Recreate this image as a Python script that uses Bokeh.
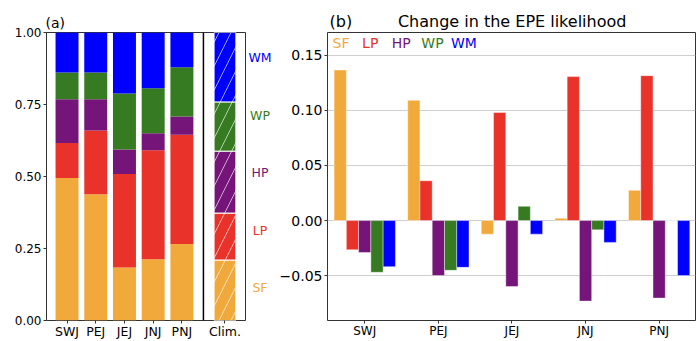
from bokeh.plotting import figure
from bokeh.layouts import row
from bokeh.models import Range1d, FixedTicker, CustomJSTickFormatter, Span, Label
from bokeh.core.properties import value
from bokeh.embed import file_html
from bokeh.resources import INLINE

# ---------------- data ----------------
jets = ["SWJ", "PEJ", "JEJ", "JNJ", "PNJ"]
clim_label = "Clim."
types = ["SF", "LP", "HP", "WP", "WM"]
colors = ["#F2A93B", "#E8322A", "#751479", "#367B21", "#0000FF"]

# (a) fraction of EPEs by weather type, per jet regime
frac_SF = [0.495, 0.438, 0.184, 0.213, 0.266]
frac_LP = [0.121, 0.222, 0.325, 0.378, 0.379]
frac_HP = [0.152, 0.108, 0.085, 0.059, 0.063]
frac_WP = [0.093, 0.093, 0.194, 0.156, 0.171]
frac_WM = [0.139, 0.139, 0.212, 0.194, 0.121]
clim_frac = [0.210, 0.163, 0.215, 0.171, 0.241]  # SF, LP, HP, WP, WM

# (b) change in the EPE likelihood
d_SF = [0.1365, 0.1090, -0.0123, 0.0021, 0.0274]
d_LP = [-0.0265, 0.0361, 0.0980, 0.1305, 0.1314]
d_HP = [-0.0289, -0.0499, -0.0598, -0.0730, -0.0703]
d_WP = [-0.0469, -0.0451, 0.0129, -0.0084, 0.0000]
d_WM = [-0.0418, -0.0424, -0.0123, -0.0198, -0.0499]

yticks_a = [0.0, 0.25, 0.5, 0.75, 1.0]
yticks_b = [-0.05, 0.0, 0.05, 0.10, 0.15]

FONT = "DejaVu Sans"
fracs = [frac_SF, frac_LP, frac_HP, frac_WP, frac_WM]
deltas = [d_SF, d_LP, d_HP, d_WP, d_WM]

H = 341
TOP, BOTTOM = 32, 19


def fmt2():
    return CustomJSTickFormatter(code="return tick.toFixed(2).replace('-', '\u2212');")


def style_axes(p, xsize, ysize):
    for ax in p.xaxis + p.yaxis:
        ax.axis_line_color = None
        ax.major_tick_line_color = "#333333"
        ax.major_tick_in = 0
        ax.major_tick_out = 3
        ax.minor_tick_line_color = None
        ax.major_label_text_font = FONT
        ax.major_label_text_color = "black"
        ax.major_label_standoff = 2
    p.xaxis.major_label_standoff = 0
    p.xaxis.major_label_text_font_size = xsize
    p.yaxis.major_label_text_font_size = ysize


def style_title(p, size, offset):
    p.title.align = "left"
    p.title.text_font = FONT
    p.title.text_font_size = size
    p.title.text_font_style = "normal"
    p.title.text_color = "black"
    p.title.standoff = 3
    p.title.offset = offset


# ---------------- panel (a) ----------------
xa = list(range(len(jets)))
clim_x = len(jets) + 0.5
xa_start, xa_end = -0.715, clim_x + 0.715

p1 = figure(width=246, height=H, output_backend="svg", toolbar_location=None,
            x_range=Range1d(xa_start, xa_end), y_range=Range1d(0, 1),
            min_border_left=46, min_border_right=1, min_border_top=TOP, min_border_bottom=BOTTOM)
p1.background_fill_color = "white"
p1.border_fill_color = "white"
p1.outline_line_color = "#333333"
p1.outline_line_width = 1
p1.grid.visible = False
p1.title.text = "(a)"
style_title(p1, "14px", -1)

cum = [0.0] * len(jets)
for k, t in enumerate(types):
    top = [c + f for c, f in zip(cum, fracs[k])]
    p1.vbar(x=xa, bottom=cum, top=top, width=0.8, fill_color=colors[k], line_color=None)
    cum = top

cb = 0.0
for k, t in enumerate(types):
    p1.vbar(x=[clim_x], bottom=[cb], top=[cb + clim_frac[k]], width=0.76,
            fill_color=colors[k], line_color="white", line_width=1,
            hatch_pattern="/", hatch_color="white", hatch_weight=0.8,
            hatch_scale=24, hatch_alpha=0.8)
    cb += clim_frac[k]

p1.add_layout(Span(location=(xa[-1] + clim_x) / 2, dimension="height",
                   line_color="black", line_width=1.5))

p1.xaxis.ticker = FixedTicker(ticks=xa + [clim_x])
p1.xaxis.major_label_overrides = dict(zip(xa + [clim_x], jets + [clim_label]))
p1.yaxis.ticker = FixedTicker(ticks=yticks_a)
p1.yaxis.formatter = fmt2()
style_axes(p1, "12.5px", "12px")

# ---------------- side labels of panel (a) ----------------
ps = figure(width=30, height=H, output_backend="svg", toolbar_location=None,
            x_range=Range1d(0, 30), y_range=p1.y_range,
            x_axis_location=None, y_axis_location=None,
            min_border_left=0, min_border_right=0, min_border_top=TOP, min_border_bottom=BOTTOM)
ps.outline_line_color = None
ps.grid.visible = False
ps.background_fill_color = "white"
ps.border_fill_color = "white"
ps.text(x=[13.5] * len(types), y=[0.1 + 0.2 * k + 0.013 for k in range(len(types))],
        text=types, text_color=colors, text_align="center", text_baseline="middle",
        text_font=value(FONT), text_font_size="12.5px")

# ---------------- panel (b) ----------------
xb_start, xb_end = -0.506, 4.494
p2 = figure(width=420, height=H, output_backend="svg", toolbar_location=None,
            x_range=Range1d(xb_start, xb_end), y_range=Range1d(-0.0906, 0.1705),
            min_border_left=51, min_border_right=1, min_border_top=TOP, min_border_bottom=BOTTOM)
p2.background_fill_color = "white"
p2.border_fill_color = "white"
p2.outline_line_color = "#333333"
p2.outline_line_width = 1
p2.xgrid.visible = False
p2.ygrid.grid_line_color = "#cfcfcf"
p2.ygrid.grid_line_width = 1
p2.title.text = "(b)" + "\u00a0" * 9 + "Change in the EPE likelihood"
style_title(p2, "16px", 2)

bw = 1.0 / 6
for k, t in enumerate(types):
    xs = [i + (k - 2) * bw for i in range(len(jets))]
    p2.vbar(x=xs, bottom=0, top=deltas[k], width=bw, fill_color=colors[k],
            line_color="white", line_width=0.6, line_alpha=0.7)

for k, t in enumerate(types):
    p2.add_layout(Label(x=xb_start, y=p2.y_range.end, x_offset=5 + 29.6 * k, y_offset=-10, text=t,
                        text_color=colors[k], text_align="left", text_baseline="middle",
                        text_font=FONT, text_font_size="14px"))

p2.xaxis.ticker = FixedTicker(ticks=list(range(len(jets))))
p2.xaxis.major_label_overrides = dict(zip(range(len(jets)), jets))
p2.yaxis.ticker = FixedTicker(ticks=yticks_b)
p2.yaxis.formatter = fmt2()
style_axes(p2, "12px", "14px")

layout = row(p1, ps, p2, spacing=0)
open("out.html", "w").write(file_html(layout, INLINE))
